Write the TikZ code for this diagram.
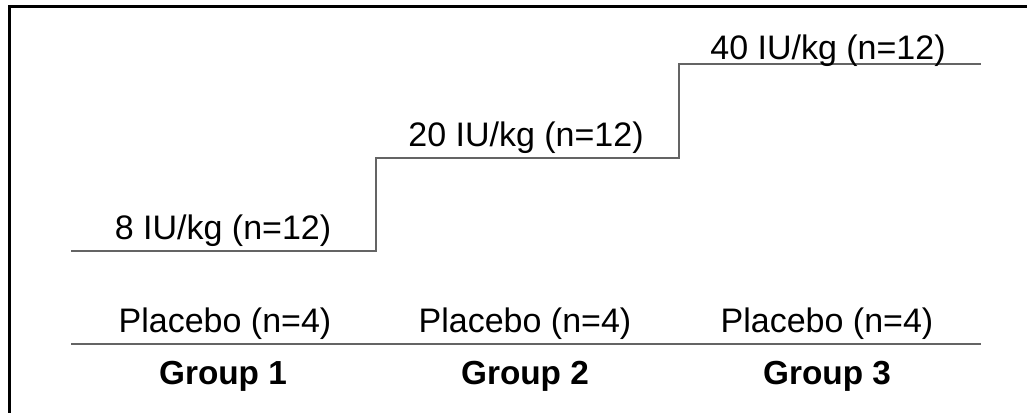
\documentclass[tikz,border=0pt]{standalone}
\usepackage{fontspec}
\setmainfont{Liberation Sans}
\begin{document}
\begin{tikzpicture}[x=0.75pt,y=0.75pt,
  frame/.style={line width=2.25pt,black},
  stepline/.style={line width=1.6pt,color={rgb,255:red,100;green,100;blue,100},line cap=rect},
  dose/.style={anchor=base,inner sep=0pt,font=\fontsize{25.5}{28}\selectfont},
  grouplbl/.style={anchor=base,inner sep=0pt,font=\fontsize{25}{28}\selectfont\bfseries}]
  \useasboundingbox (0,0) rectangle (1027,413);
  % open frame: only left and top edges
  \coordinate (fbl) at (9.5,0);
  \coordinate (ftl) at (9.5,406.5);
  \coordinate (ftr) at (1027,406.5);
  \draw[frame] (fbl) -- (ftl) -- (ftr);
  % dose escalation staircase
  \coordinate (s0) at (72,162);
  \coordinate (s1) at (376,162);
  \coordinate (s2) at (376,255);
  \coordinate (s3) at (679,255);
  \coordinate (s4) at (679,349);
  \coordinate (s5) at (980,349);
  \draw[stepline,line join=miter] (s0) -- (s1) -- (s2) -- (s3) -- (s4) -- (s5);
  % baseline under placebo arms
  \coordinate (b0) at (72,69);
  \coordinate (b1) at (980,69);
  \draw[stepline] (b0) -- (b1);
  % dose labels
  \node[dose] (d1) at (223,173) {8 IU/kg (n=12)};
  \node[dose] (d2) at (526,266.5) {20 IU/kg (n=12)};
  \node[dose] (d3) at (828,353) {40 IU/kg (n=12)};
  % placebo labels
  \node[dose] (p1) at (225,80.5) {Placebo (n=4)};
  \node[dose] (p2) at (525,80.5) {Placebo (n=4)};
  \node[dose] (p3) at (827,80.5) {Placebo (n=4)};
  % group labels
  \node[grouplbl] (g1) at (223,28.5) {Group 1};
  \node[grouplbl] (g2) at (525,28.5) {Group 2};
  \node[grouplbl] (g3) at (827,28.5) {Group 3};
\end{tikzpicture}
\end{document}
